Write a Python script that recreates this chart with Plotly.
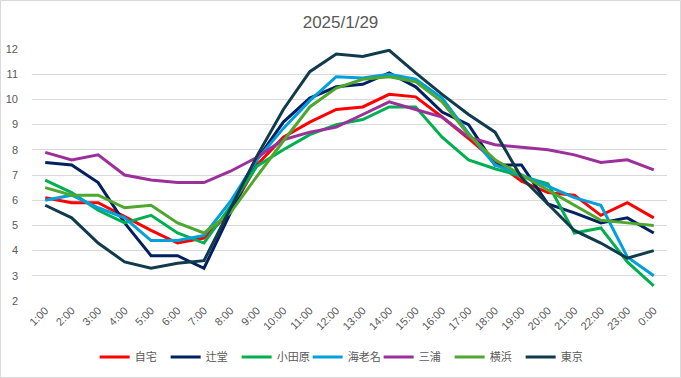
import plotly.graph_objects as go

hours = ["1:00", "2:00", "3:00", "4:00", "5:00", "6:00", "7:00", "8:00", "9:00", "10:00",
         "11:00", "12:00", "13:00", "14:00", "15:00", "16:00", "17:00", "18:00", "19:00",
         "20:00", "21:00", "22:00", "23:00", "0:00"]

jitaku = [6.1, 5.9, 5.9, 5.35, 4.8, 4.3, 4.5, 5.55, 7.4, 8.5, 9.1, 9.6, 9.7, 10.2, 10.1, 9.3,
          8.45, 7.55, 6.75, 6.3, 6.2, 5.4, 5.9, 5.3]
tsujido = [7.5, 7.4, 6.7, 5.1, 3.8, 3.8, 3.3, 5.5, 7.6, 9.1, 10.05, 10.5, 10.6, 11.05, 10.5, 9.5,
           9.0, 7.4, 7.4, 5.85, 5.5, 5.1, 5.3, 4.7]
odawara = [6.8, 6.3, 5.6, 5.1, 5.4, 4.7, 4.3, 5.75, 7.35, 8.0, 8.6, 9.0, 9.2, 9.7, 9.7, 8.5,
           7.6, 7.25, 6.95, 6.65, 4.7, 4.9, 3.55, 2.6]
ebina = [6.0, 6.2, 5.7, 5.3, 4.4, 4.4, 4.6, 5.95, 7.6, 8.85, 9.95, 10.9, 10.85, 11.0, 10.8, 10.05,
         8.65, 7.4, 7.0, 6.55, 6.1, 5.8, 3.75, 3.0]
miura = [7.9, 7.6, 7.8, 7.0, 6.8, 6.7, 6.7, 7.15, 7.7, 8.4, 8.7, 8.9, 9.4, 9.9, 9.6, 9.3,
         8.5, 8.2, 8.1, 8.0, 7.8, 7.5, 7.6, 7.2]
yokohama = [6.5, 6.2, 6.2, 5.7, 5.8, 5.1, 4.7, 5.5, 6.95, 8.35, 9.7, 10.45, 10.8, 10.9, 10.7, 9.9,
            8.6, 7.6, 7.0, 6.4, 5.8, 5.2, 5.1, 5.0]
tokyo = [5.8, 5.3, 4.3, 3.55, 3.3, 3.5, 3.6, 5.65, 7.75, 9.6, 11.1, 11.8, 11.7, 11.95, 11.05, 10.2,
         9.4, 8.7, 6.9, 5.85, 4.8, 4.3, 3.7, 4.0]

series = [
    ("自宅", jitaku, "#FF0000"),
    ("辻堂", tsujido, "#002060"),
    ("小田原", odawara, "#00B050"),
    ("海老名", ebina, "#00A0DC"),
    ("三浦", miura, "#9C2F9C"),
    ("横浜", yokohama, "#4EA72E"),
    ("東京", tokyo, "#0F3B4C"),
]

fig = go.Figure()
for name, vals, col in series:
    fig.add_trace(go.Scatter(x=hours, y=vals, name=name, mode="lines",
                             line=dict(color=col, width=3)))

W, H = 681, 378
ml, mr, mt, mb = 32, 14, 49, 77
pw, ph = W - ml - mr, H - mt - mb

font_main = "Liberation Sans Narrow, Liberation Sans, Noto Sans CJK JP, sans-serif"

fig.update_layout(
    width=W, height=H,
    margin=dict(l=ml, r=mr, t=mt, b=mb, pad=0, autoexpand=False),
    paper_bgcolor="white", plot_bgcolor="white",
    title=dict(text="2025/1/29", x=0.5, xanchor="center", y=1 - 22 / H, yanchor="middle",
               font=dict(family=font_main, size=17, color="#595959")),
    font=dict(family=font_main, size=11, color="#595959"),
    xaxis=dict(type="category", range=[-0.5, 23.5], tickangle=-45, showgrid=False,
               showline=False, ticks="", automargin=False,
               tickfont=dict(size=11, color="#595959")),
    yaxis=dict(range=[2, 12], dtick=1, showgrid=True, gridcolor="#D9D9D9", gridwidth=1,
               zeroline=False, showline=False, ticks="", automargin=False,
               ticklabelstandoff=13,
               tickfont=dict(size=11, color="#595959")),
    legend=dict(orientation="h", x=0.49, xanchor="center", y=(301 - 357) / ph, yanchor="middle",
                font=dict(family="Noto Sans CJK JP, sans-serif", size=11, color="#595959"),
                itemwidth=30, entrywidth=26, entrywidthmode="pixels", tracegroupgap=0),
    showlegend=True,
)

fig.add_shape(type="rect", xref="paper", yref="paper",
              x0=(0.5 - ml) / pw, x1=(W - 0.5 - ml) / pw,
              y0=-(mb - 0.5) / ph, y1=1 + (mt - 0.5) / ph,
              line=dict(color="#D9D9D9", width=1), layer="below")

fig.write_html("out.html", config={"displayModeBar": False},
               post_script="document.body.style.margin='0px';document.body.style.padding='0px';")
